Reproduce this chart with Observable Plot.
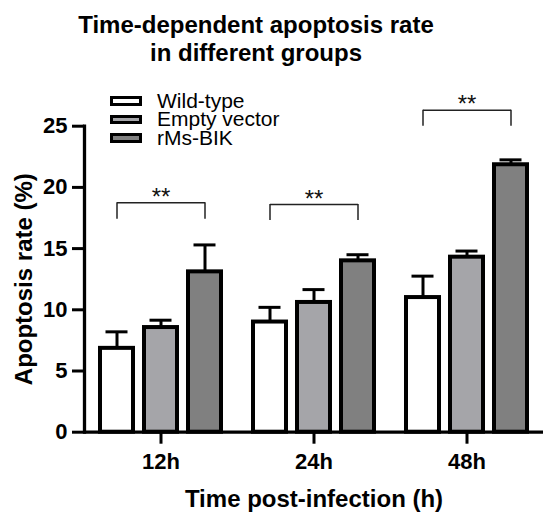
<!DOCTYPE html>
<html><head><meta charset="utf-8">
<script src="https://cdn.jsdelivr.net/npm/d3@7"></script>
<script src="https://cdn.jsdelivr.net/npm/@observablehq/plot@0.6"></script>
<style>
body{margin:0;background:#fff;font-family:"Liberation Sans",Arial,sans-serif;}
#wrap{position:relative;width:550px;height:522px;}
#chart{position:absolute;left:0;top:0}
#title{position:absolute;left:0;top:11px;width:512px;text-align:center;font-size:24px;font-weight:bold;line-height:28px;color:#000;}
#legend{position:absolute;left:110px;top:91.5px;font-size:21px;line-height:18.5px;color:#000}
.row{display:flex;align-items:center;height:18.5px;white-space:nowrap}
.sw{box-sizing:border-box;width:32px;height:9.5px;border:3px solid #000;margin-right:15px}
g[aria-label="y-axis label"], g[aria-label="fx-axis label"]{font-size:24px;font-weight:bold}
g[aria-label="y-axis tick label"], g[aria-label="fx-axis tick label"]{font-size:22px;font-weight:bold}
</style></head>
<body><div id="wrap"><div id="chart"></div><div id="title">Time-dependent apoptosis rate<br>in different groups</div><div id="legend"></div></div>
<script>
const times = ["12h", "24h", "48h"];
const groups = ["Wild-type", "Empty vector", "rMs-BIK"];
const colors = ["#ffffff", "#a5a5a9", "#808080"];
const wildType = [6.85, 9.0, 11.0];
const wildTypeErr = [1.35, 1.2, 1.75];
const emptyVector = [8.55, 10.6, 14.3];
const emptyVectorErr = [0.6, 1.05, 0.5];
const rmsBik = [13.1, 14.0, 21.85];
const rmsBikErr = [2.2, 0.5, 0.4];
const sigLabels = ["**", "**", "**"];
const sigLow = [17.4, 17.3, 25.0];
const sigHigh = [18.75, 18.6, 26.3];
const yTicks = [0, 5, 10, 15, 20, 25];

const means = [wildType, emptyVector, rmsBik];
const errs = [wildTypeErr, emptyVectorErr, rmsBikErr];
const data = [];
times.forEach((t, i) => groups.forEach((g, j) => data.push({time: t, group: g, value: means[j][i], err: errs[j][i]})));
const sig = times.map((t, i) => ({time: t, label: sigLabels[i], low: sigLow[i], high: sigHigh[i]}));
const legs = sig.flatMap(s => [groups[0], groups[2]].map(g => ({...s, group: g})));

const plot = Plot.plot({
  width: 550, height: 522,
  marginLeft: 83, marginRight: 6.5, marginTop: 125.7, marginBottom: 90.3,
  style: {fontFamily: '"Liberation Sans", Arial, sans-serif', color: "#000", background: "transparent", overflow: "visible"},
  fx: {domain: times, padding: 0},
  x: {domain: groups, paddingInner: 0.26, paddingOuter: 0.3665, axis: null},
  y: {domain: [0, 25]},
  color: {domain: groups, range: colors},
  marks: [
    Plot.frame({anchor: "left", facetAnchor: "left", strokeWidth: 3.3}),
    Plot.ruleY([0], {strokeWidth: 3.3}),
    Plot.ruleX(data, {fx: "time", x: "group", y1: "value", y2: d => d.value + d.err, strokeWidth: 3}),
    Plot.tickY(data, {fx: "time", x: "group", y: d => d.value + d.err, strokeWidth: 3, insetLeft: 5.5, insetRight: 5.5}),
    Plot.barY(data, {fx: "time", x: "group", y: "value", fill: "group", stroke: "#000", strokeWidth: 4}),
    Plot.link(sig, {fx: "time", x1: () => groups[0], x2: () => groups[2], y1: "high", y2: "high", stroke: "#222", strokeWidth: 1.5}),
    Plot.ruleX(legs, {fx: "time", x: "group", y1: "low", y2: "high", stroke: "#222", strokeWidth: 1.5}),
    Plot.text(sig, {fx: "time", x: () => groups[1], y: "high", text: "label", lineAnchor: "bottom", dy: 2, fontSize: 24, fill: "#111"}),
    Plot.axisY({ticks: yTicks, tickSize: 12, tickPadding: 5, strokeWidth: 3, fontSize: 22, fontWeight: "bold", label: "Apoptosis rate (%)", labelArrow: false, labelAnchor: "center", labelOffset: 70}),
    Plot.axisFx({anchor: "bottom", tickSize: 12, tickPadding: 9, strokeWidth: 3, fontSize: 22, fontWeight: "bold", label: "Time post-infection (h)", labelArrow: false, labelAnchor: "center", labelOffset: 75})
  ]
});
document.getElementById("chart").appendChild(plot);

const legend = document.getElementById("legend");
groups.forEach((g, j) => {
  const row = document.createElement("div");
  row.className = "row";
  const sw = document.createElement("span");
  sw.className = "sw";
  sw.style.background = colors[j];
  const lab = document.createElement("span");
  lab.textContent = g;
  row.appendChild(sw); row.appendChild(lab);
  legend.appendChild(row);
});
</script></body></html>
